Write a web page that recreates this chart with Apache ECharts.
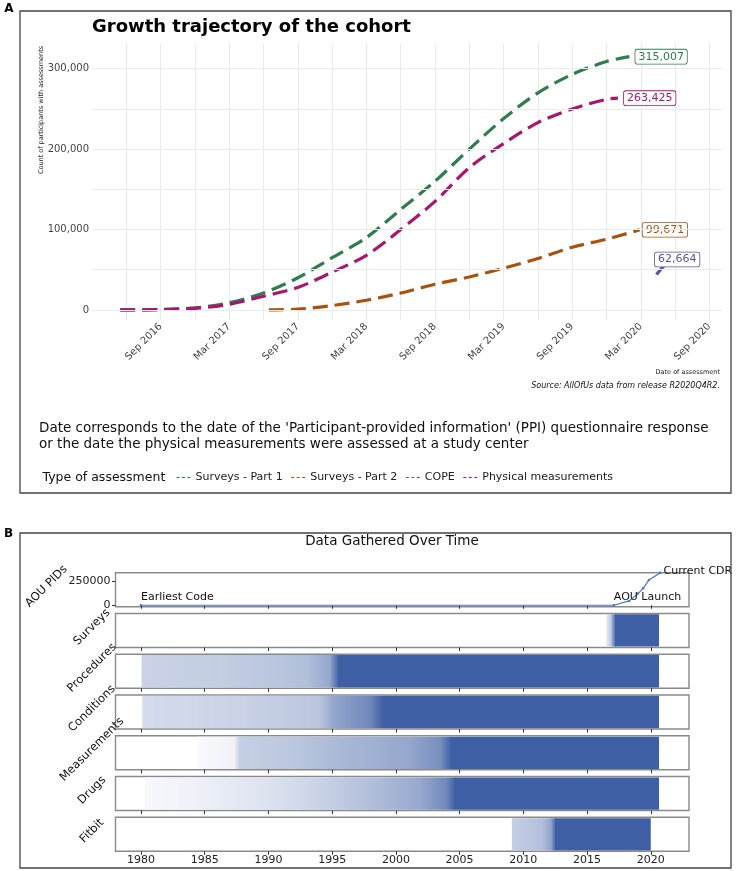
<!DOCTYPE html>
<html><head><meta charset="utf-8">
<script src="https://cdn.jsdelivr.net/npm/echarts@6/dist/echarts.min.js"></script>
<style>html,body{margin:0;padding:0;background:#fff}#c{width:736px;height:871px}</style>
</head><body><div id="c"></div><script>
// ---------- Panel A data ----------
const xTickLabels = ['Sep 2016','Mar 2017','Sep 2017','Mar 2018','Sep 2018','Mar 2019','Sep 2019','Mar 2020','Sep 2020'];
const yTickValues = [0, 100000, 200000, 300000];
const yGridValues = [0, 50000, 100000, 150000, 200000, 250000, 300000];

const surveys1Dates = ['2016-05-15','2016-09-01','2016-12-01','2017-03-01','2017-06-01','2017-09-01','2017-12-01','2018-03-01','2018-06-01','2018-09-01','2018-12-01','2019-03-01','2019-06-01','2019-09-01','2019-12-01','2020-02-01'];
const surveys1Values = [0, 500, 2500, 9000, 21000, 40000, 65000, 90000, 125000, 160000, 200000, 238000, 270000, 293000, 309000, 315007];

const surveys2Dates = ['2017-06-15','2017-09-01','2017-12-01','2018-03-01','2018-06-01','2018-09-01','2018-12-01','2019-03-01','2019-06-01','2019-09-01','2019-12-01','2020-02-28'];
const surveys2Values = [0, 1000, 5500, 12000, 21000, 32000, 41000, 52000, 64000, 78000, 88000, 99671];

const copeDates = ['2020-04-12','2020-04-28','2020-05-20'];
const copeValues = [44000, 53000, 62664];

const physicalDates = ['2016-05-15','2016-09-01','2016-12-01','2017-03-01','2017-06-01','2017-09-01','2017-12-01','2018-03-01','2018-06-01','2018-09-01','2018-12-01','2019-03-01','2019-06-01','2019-09-01','2019-12-01','2020-01-01'];
const physicalValues = [0, 500, 2000, 7000, 17000, 28000, 47000, 68000, 100000, 135000, 177000, 207000, 233000, 250000, 262000, 263425];

// ---------- Panel B data ----------
const yearTicks = [1980, 1985, 1990, 1995, 2000, 2005, 2010, 2015, 2020];
const pidYears = [1980.0, 2017.1, 2018.3, 2019.0, 2019.4, 2019.85, 2020.75];
const pidValues = [0, 0, 45000, 120000, 175000, 260000, 335000];
const pidTicks = [0, 250000];

const surveysYears = [2016.5, 2016.9, 2017.2, 2020.65];
const surveysDensity = [0.1, 0.4, 1.0, 1.0];
const proceduresYears = [1980.05, 1985, 1990, 1993, 1994.8, 1995.5, 2020.65];
const proceduresDensity = [0.28, 0.3, 0.35, 0.4, 0.55, 1.0, 1.0];
const conditionsYears = [1980.1, 1988, 1994, 1995, 1998, 1999, 2020.65];
const conditionsDensity = [0.22, 0.28, 0.35, 0.55, 0.75, 1.0, 1.0];
const measurementsYears = [1984.5, 1987.3, 1987.7, 1992, 1996, 2001, 2003.5, 2004.3, 2020.65];
const measurementsDensity = [0.03, 0.08, 0.3, 0.35, 0.45, 0.55, 0.7, 1.0, 1.0];
const drugsYears = [1980.3, 1985, 1990, 1994, 1998, 2002, 2004, 2004.6, 2020.65];
const drugsDensity = [0.04, 0.1, 0.18, 0.28, 0.4, 0.55, 0.75, 1.0, 1.0];
const fitbitYears = [2009.1, 2011.5, 2012.2, 2012.5, 2020.0];
const fitbitDensity = [0.3, 0.4, 0.6, 1.0, 1.0];

// ---------- helpers ----------
function monthIdx(s) {
  const [y, m, d] = s.split('-').map(Number);
  return (y - 2016) * 12 + (m - 3) + ((d || 1) - 1) / 30;
}
function pairs(dates, vals) { return dates.map((d, i) => [monthIdx(d), vals[i]]); }
const FONT = 'DejaVu Sans';
const C_GREEN = '#2e7d4f', C_ORANGE = '#a9520e', C_PURPLE = '#5b55a3', C_MAG = '#a8166d';
const BLUE = [62, 95, 164];
function shade(d) {
  const c = BLUE.map(v => Math.round(255 - d * (255 - v)));
  return 'rgb(' + c.join(',') + ')';
}
const DASH_ICON = 'path://M0,0h3v1h-3z M5.5,0h3v1h-3z M11,0h3v1h-3z';

function curve(name, dates, vals, color, extraLabel) {
  return {
    name, type: 'line', xAxisIndex: 0, yAxisIndex: 0, z: 3,
    data: pairs(dates, vals), symbol: 'none', smooth: 0.3,
    lineStyle: { color, width: 3.2, type: [15, 7] }, itemStyle: { color },
    endLabel: Object.assign({
      show: true, distance: 6, color, fontSize: 11, fontFamily: FONT,
      backgroundColor: '#fff', borderColor: color, borderWidth: 0.8, borderRadius: 2,
      padding: [2, 3, 1, 3],
      formatter: p => p.value[1].toLocaleString('en-US')
    }, extraLabel || {})
  };
}

// ---------- Panel B layout ----------
const B_LEFT = 115.5, B_WIDTH = 573.5, B_H = 34, B_TOP0 = 572.7, B_STEP = 40.77;
const rowNames = ['AOU PIDs', 'Surveys', 'Procedures', 'Conditions', 'Measurements', 'Drugs', 'Fitbit'];
const strips = [
  [surveysYears, surveysDensity], [proceduresYears, proceduresDensity], [conditionsYears, conditionsDensity],
  [measurementsYears, measurementsDensity], [drugsYears, drugsDensity], [fitbitYears, fitbitDensity]
];

const grids = [{ left: 92, top: 43, width: 630, height: 277 }];
const xAxes = [{
  gridIndex: 0, type: 'value', min: 0, max: 55.1, interval: 3,
  axisLine: { show: false }, axisTick: { show: false },
  splitLine: { show: true, showMinLine: false, showMaxLine: false, lineStyle: { color: '#ebebeb', width: 1 } },
  axisLabel: {
    rotate: 45, margin: 5, fontSize: 10, color: '#444', fontFamily: FONT,
    showMinLabel: false, showMaxLabel: false,
    formatter: v => { const k = Math.round(v); if (Math.abs(v - k) < 1e-6 && k > 0 && k % 6 === 0) return xTickLabels[k / 6 - 1] || ''; return ''; }
  }
}];
const yAxes = [{
  gridIndex: 0, type: 'value', min: -12500, max: 332000, interval: 12500,
  axisLine: { show: false }, axisTick: { show: false }, splitLine: { show: false },
  axisLabel: {
    margin: 3, fontSize: 10, color: '#444', fontFamily: FONT,
    formatter: v => { for (const t of yTickValues) if (Math.abs(v - t) < 1) return t.toLocaleString('en-US'); return ''; }
  }
}];

for (let i = 0; i < 7; i++) {
  const top = B_TOP0 + i * B_STEP;
  grids.push({ left: B_LEFT, top, width: B_WIDTH, height: B_H, show: true, borderColor: '#8a8a8a', borderWidth: 1.4, backgroundColor: 'transparent' });
  xAxes.push({
    gridIndex: i + 1, type: 'value', min: 1978, max: 2023,
    axisLine: { show: false }, splitLine: { show: false },
    axisTick: { show: true, customValues: yearTicks, length: 3.5, inside: false, lineStyle: { color: '#333', width: 1 } },
    axisLabel: { show: i === 6, customValues: yearTicks, margin: 3, fontSize: 11, color: '#222', fontFamily: FONT,
      formatter: v => String(Math.round(v)) }
  });
  if (i === 0) {
    yAxes.push({
      gridIndex: 1, type: 'value', min: -15000, max: 336000,
      axisLine: { show: false }, splitLine: { show: false },
      axisTick: { show: true, customValues: pidTicks, length: 3.5, lineStyle: { color: '#333' } },
      axisLabel: { customValues: pidTicks, margin: 5, fontSize: 11, color: '#222', fontFamily: FONT,
        formatter: v => String(Math.round(v)) }
    });
  } else {
    yAxes.push({ gridIndex: i + 1, type: 'value', min: 0, max: 1, show: false });
  }
}

const series = [
  { name: 'grid', type: 'line', xAxisIndex: 0, yAxisIndex: 0, data: [], z: 1, silent: true,
    markLine: { silent: true, symbol: ['none', 'none'], label: { show: false }, animation: false,
      lineStyle: { color: '#ebebeb', width: 1, type: 'solid' },
      data: yGridValues.map(v => ({ yAxis: v })) } },
  curve('Surveys - Part 1', surveys1Dates, surveys1Values, C_GREEN),
  curve('Surveys - Part 2', surveys2Dates, surveys2Values, C_ORANGE, { distance: 3 }),
  curve('COPE', copeDates, copeValues, C_PURPLE, { offset: [-22, 0] }),
  curve('Physical measurements', physicalDates, physicalValues, C_MAG),
  {
    name: 'AOU PIDs', type: 'line', xAxisIndex: 1, yAxisIndex: 1,
    data: pidYears.map((y, i) => {
      const item = { value: [y, pidValues[i]] };
      if (i === 0) item.label = { show: true, formatter: 'Earliest Code', position: 'top', align: 'left', distance: 1 };
      if (i === 1) item.label = { show: true, formatter: 'AOU Launch', position: 'top', align: 'left', distance: 1 };
      if (i === pidYears.length - 1) item.label = { show: true, formatter: 'Current CDR', position: 'right', distance: 2, offset: [0, -2] };
      return item;
    }),
    symbol: 'circle', symbolSize: 2.5, showSymbol: true,
    lineStyle: { color: '#4a78bd', width: 1.2 }, itemStyle: { color: '#4a78bd' },
    label: { fontSize: 11, color: '#111', fontFamily: FONT }
  }
];

strips.forEach(([years, dens], k) => {
  const gi = k + 2;
  series.push({
    type: 'custom', xAxisIndex: gi, yAxisIndex: gi, silent: true, clip: true,
    data: years.map((y, i) => [y, dens[i]]),
    renderItem: (params, api) => {
      const i = params.dataIndex;
      if (i >= years.length - 1) return;
      const p0 = api.coord([years[i], 0.975]);
      const p1 = api.coord([years[i + 1], 0.025]);
      const last = i === years.length - 2;
      return {
        type: 'rect',
        shape: { x: p0[0], y: p0[1], width: p1[0] - p0[0] + (last ? 0 : 0.8), height: p1[1] - p0[1] },
        style: { fill: new echarts.graphic.LinearGradient(0, 0, 1, 0, [
          { offset: 0, color: shade(dens[i]) }, { offset: 1, color: shade(dens[i + 1]) }]) }
      };
    }
  });
});

const graphics = [
  { type: 'rect', shape: { x: 20, y: 11, width: 711, height: 482 }, style: { fill: 'none', stroke: '#444', lineWidth: 1.3 }, z: 100 },
  { type: 'rect', shape: { x: 20, y: 533, width: 711, height: 335 }, style: { fill: 'none', stroke: '#444', lineWidth: 1.3 }, z: 100 },
  { type: 'text', x: 9, y: 9, style: { text: 'A', font: 'bold 12px ' + FONT, fill: '#000', align: 'center', verticalAlign: 'middle' } },
  { type: 'text', x: 8.5, y: 534, style: { text: 'B', font: 'bold 12px ' + FONT, fill: '#000', align: 'center', verticalAlign: 'middle' } },
  { type: 'text', x: 92, y: 27.5, style: { text: 'Growth trajectory of the cohort', font: 'bold 18px ' + FONT, fill: '#000', align: 'left', verticalAlign: 'middle' } },
  { type: 'text', x: 41, y: 110, rotation: Math.PI / 2, style: { text: 'Count of participants with assessments', font: '6.5px ' + FONT, fill: '#222', align: 'center', verticalAlign: 'middle' } },
  { type: 'text', x: 720, y: 372, style: { text: 'Date of assessment', font: '6.5px ' + FONT, fill: '#222', align: 'right', verticalAlign: 'middle' } },
  { type: 'text', x: 720, y: 386, style: { text: 'Source: AllOfUs data from release R2020Q4R2.', font: 'italic 8px ' + FONT, fill: '#111', align: 'right', verticalAlign: 'middle' } },
  { type: 'text', x: 39, y: 428, style: { text: "Date corresponds to the date of the 'Participant-provided information' (PPI) questionnaire response", font: '13.5px ' + FONT, fill: '#111', align: 'left', verticalAlign: 'middle' } },
  { type: 'text', x: 39, y: 444, style: { text: 'or the date the physical measurements were assessed at a study center', font: '13.5px ' + FONT, fill: '#111', align: 'left', verticalAlign: 'middle' } },
  { type: 'text', x: 42.5, y: 478, style: { text: 'Type of assessment', font: '12.5px ' + FONT, fill: '#111', align: 'left', verticalAlign: 'middle' } },
  { type: 'text', x: 392, y: 541.5, style: { text: 'Data Gathered Over Time', font: '13.5px ' + FONT, fill: '#111', align: 'center', verticalAlign: 'middle' } }
];
rowNames.forEach((n, i) => {
  const mid = B_TOP0 + i * B_STEP + B_H / 2 - 3.3;
  graphics.push({ type: 'text', x: i === 0 ? 46.5 : 92, y: mid, rotation: Math.PI / 4,
    style: { text: n, font: '11.5px ' + FONT, fill: '#111', align: 'center', verticalAlign: 'middle' } });
});

const chart = echarts.init(document.getElementById('c'), null, { renderer: 'canvas' });
chart.setOption({
  animation: false,
  backgroundColor: '#fff',
  textStyle: { fontFamily: FONT },
  grid: grids, xAxis: xAxes, yAxis: yAxes, series,
  legend: {
    data: ['Surveys - Part 1', 'Surveys - Part 2', 'COPE', 'Physical measurements'].map(n => ({ name: n, icon: DASH_ICON })),
    left: 176.5, top: 472, itemWidth: 14, itemHeight: 2, itemGap: 8.5, padding: 0,
    textStyle: { fontSize: 11, color: '#222', fontFamily: FONT }
  },
  graphic: { elements: graphics }
});
</script></body></html>
